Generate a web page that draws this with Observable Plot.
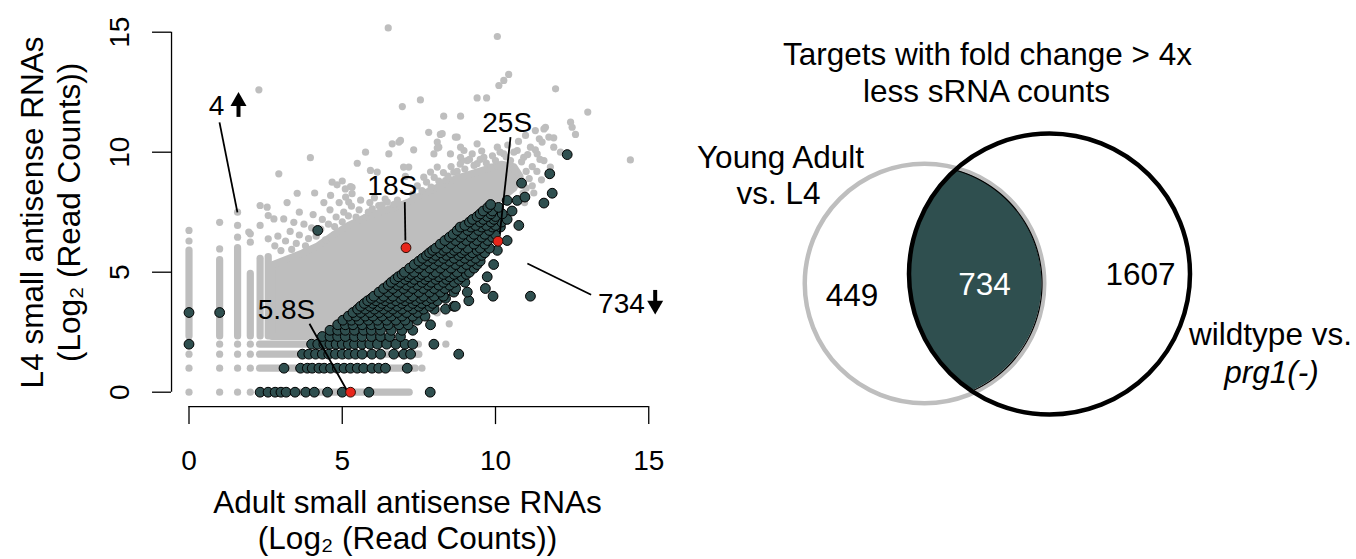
<!DOCTYPE html>
<html><head><meta charset="utf-8">
<script src="https://cdn.jsdelivr.net/npm/d3@7"></script>
<script src="https://cdn.jsdelivr.net/npm/@observablehq/plot@0.6"></script>
<style>
body{margin:0;background:#fff}
#wrap{display:flex;width:1356px;height:559px;overflow:hidden}
svg{display:block}
</style>
</head><body><div id="wrap"></div>
<script>
// ---------------- data (log2 read counts) ----------------
const xTicks = [0, 5, 10, 15];
const yTicks = [0, 5, 10, 15];
const xTitle = ["Adult small antisense RNAs", "(Log\u2082 (Read Counts))"];
const yTitle = ["L4 small antisense RNAs", "(Log\u2082 (Read Counts))"];

// dense core of the grey (all targets) cloud, outline [adult, L4]
const grayCore = [[2.7,2.32],[2.7,5.3],[3.2,5.55],[3.7,5.8],[4.2,6.1],[4.7,6.55],[5.2,6.95],[5.7,7.25],[6.2,7.5],[6.7,7.7],[7.2,7.95],[7.7,8.3],[8.2,8.6],[8.7,8.9],[9.2,9.1],[9.7,9.3],[10.2,9.5],[10.6,9.4],[10.8,9.0],[10.6,8.5],[10.2,8.1],[9.8,7.8],[9.0,7.0],[7.0,5.0],[5.0,3.0],[4.3,2.32]];
// stacked columns of grey points at low adult counts
const grayColumns = [{x:0,y1:2.32,y2:5.9},{x:1,y1:2.32,y2:5.5},{x:1.585,y1:2.32,y2:6.0},{x:2,y1:2.32,y2:4.93},{x:2.32,y1:2.32,y2:5.56},{x:2.585,y1:2.32,y2:5.63}];
// stacked rows of grey points at low L4 counts
const grayRows = [{y:0,x1:2.32,x2:7.2},{y:1,x1:2.32,x2:7.4},{y:1.585,x1:2.32,x2:7.46},{y:2,x1:2.32,x2:7.5}];
// individual grey points
const grayDots = [[0,0],[1,0],[1.585,0],[2,0],[0,1],[1,1],[1.585,1],[2,1],[0,1.585],[1,1.585],[1.585,1.585],[2,1.585],[0,2],[1,2],[1.585,2],[2,2],
[0,6.3],[0,6.74],[1,5.97],[1,7.08],[1.585,6.46],[1.585,6.95],[1.585,7.5],[2,6.25],[2,6.6],[2.32,6.95],[2.32,7.78],[2.585,6.39],[2.585,7.36],
[2.28,12.6],[6.5,15.18],[10.06,14.82],[10.43,13.24],[10.27,12.99],[10.11,12.78],[11.96,12.64],[7.55,12.18],[6.96,11.9],[9.4,12.26],[9.71,12.26],[8.31,11.5],[8.86,11.5],[13.01,11.67],[12.45,11.25],[12.5,11.04],[12.61,10.74],[11.63,11.04],[7.82,10.83],[8.2,10.74],[8.75,10.63],[6.9,10.49],[6.63,10.35],[7.33,10.1],[8.1,10.17],[8.97,10.07],[9.4,10.35],[11.3,10.9],[11.58,10.97],[11.43,10.56],[11.74,10.63],[11.9,10.6],[10.98,10.7],[5.76,10.0],[6.52,9.93],[3.96,9.77],[5.49,9.54],[14.4,9.68],[4.67,8.75],[4.83,8.64],[3.53,8.29],[4.62,8.2],[5.1,8.47],[5.27,8.57],[5.92,9.24],[6.14,9.17],[7.0,9.38],[2.93,9.1],[6.85,10.42],[8.26,10.77],[8.1,10.42],[8.15,10.21],[7.99,9.93],[8.53,9.93],[8.69,10.63],[8.86,10.21],[8.91,9.65],[5.32,8.54],
[5.11,8.13],[5.21,7.92],[5.32,8.27],[5.76,7.29],[5.98,7.64],[6.19,7.78],[6.47,7.92],[6.68,7.82],[7.17,9.38],[7.06,8.99],[7.66,8.96],[7.88,9.17],[8.1,9.38],[8.37,8.82],[8.64,9.17],[8.86,9.79],[9.08,9.65],[9.24,9.93],[9.4,9.52],[9.62,9.79],[9.84,9.38],[10.06,10.21],[10.27,9.93],[10.49,9.65],[10.71,10.07],[10.92,9.79],[11.14,10.21],[11.36,9.93],[11.58,9.65],[11.79,9.38],[11.52,10.42],[11.9,10.21],[12.12,10.0],
[10.5,8.6],[10.8,8.9],[11.0,9.2],[10.3,9.0],[10.6,9.3],[11.2,8.6],[10.9,8.3],[8.49,2.85],[8.38,2.0],[7.6,1.0],[7.5,1.585],[8.1,3.3],
[2.77,7.22],[3.09,7.22],[3.42,7.08],[1.95,6.67],[2.55,7.71],[2.8,6.1],[2.9,6.5],[3.0,5.9],[3.15,6.3],[3.3,6.7],[3.35,5.95],[3.5,6.2],[3.6,6.55],[3.75,7.0],[3.8,6.1],[3.9,6.4],[4.0,6.85],[4.05,7.4],[4.15,6.5],[4.3,6.8],[4.35,7.2],[4.45,6.35],[4.55,7.0],[4.6,7.6],[4.75,6.9],[4.8,7.3],[4.9,7.9],[5.0,7.1],[5.05,7.5],[5.2,7.35],[5.3,7.75],[5.45,7.3],[5.55,7.6],[5.6,8.0],[5.85,7.5],[5.9,7.9],[6.05,8.1],[6.3,7.8],[6.4,8.05],[6.8,8.0],[5.0,8.8],[4.4,7.9],[3.6,7.5],[3.2,7.9],[4.1,8.3],
[7.3,8.25],[7.45,8.6],[7.6,8.4],[7.75,8.75],[7.9,8.55],[8.0,8.95],[8.15,8.8],[8.3,9.15],[8.45,9.0],[8.55,9.4],[8.75,9.2],[8.85,9.5],[9.0,9.3],[9.15,9.7],[9.3,9.45],[9.5,9.7],[9.55,10.05],[9.7,9.55],[9.9,9.85],[10.0,9.65],[10.15,10.0],[10.35,9.8],[10.4,10.3],[10.6,10.0],[10.75,10.45],[10.85,9.6],[11.05,9.9],[11.2,9.4],[11.3,10.1],[11.45,9.7],[11.1,8.9],[11.35,9.2],[11.5,8.85],[11.25,8.3],[11.0,8.5],[10.95,7.9]];

// dark (Young Adult vs. L4 > 4x down) points, read row by row: L4 value and adult values
const darkRows = [
{y:0, xs:[2.32,2.58,2.81,3.0,3.17,3.46,3.81,4.09,4.52,5.0,5.87,7.87]},
{y:1, xs:[3.1,3.64,3.86,4.02,4.24,4.41,4.62,4.84,5.06,5.27,5.49,5.7,5.97,6.19,6.41,7.12]},
{y:1.585, xs:[3.7,3.91,4.13,4.35,4.56,4.78,5.0,5.21,5.43,5.65,5.97,6.25,6.68,7.01,7.23,8.8]},
{y:2, xs:[4.0,4.2,4.4,4.6,4.8,5.0,5.2,5.4,5.65,5.9,6.15,6.45,6.75,7.05,7.3,7.99]},
{y:2.32, xs:[4.35,4.6,4.85,5.1,5.4,5.65,5.95,6.25,6.55,6.9]},
{y:2.58, xs:[4.6,4.85,5.1,5.4,5.7,5.95,6.25,6.6,6.95,7.3]},
{y:2.81, xs:[4.85,5.1,5.35,5.65,5.95,6.2,6.5,6.85,7.15,7.88]},
{y:3.0, xs:[5.02,5.3,5.55,5.85,6.15,6.45,6.75,7.05,7.45]},
{y:3.17, xs:[5.2,5.45,5.75,6.0,6.3,6.6,6.95,7.3,7.7]},
{y:3.32, xs:[5.35,5.6,5.9,6.2,6.5,6.8,7.1,7.45]},
{y:3.46, xs:[5.5,5.75,6.05,6.35,6.65,6.95,7.3,7.65,8.0,8.37]},
{y:3.58, xs:[5.6,5.9,6.2,6.5,6.8,7.15,7.5,7.85,8.64,8.69]},
{y:3.7, xs:[5.72,6.0,6.3,6.6,6.95,7.3,7.6,7.95]},
{y:3.81, xs:[5.83,6.1,6.4,6.75,7.05,7.4,7.75,8.1,9.13]},
{y:3.91, xs:[5.95,6.25,6.55,6.9,7.2,7.55,7.9,8.37]},
{y:4.0, xs:[6.03,6.35,6.65,7.0,7.3,7.65,8.0,8.3,9.92,11.14]},
{y:4.17, xs:[6.2,6.5,6.8,7.15,7.5,7.85,8.2,8.64,9.08]},
{y:4.32, xs:[6.35,6.65,7.0,7.3,7.65,8.0,8.35,8.7,9.67]},
{y:4.46, xs:[6.5,6.8,7.1,7.45,7.8,8.15,8.5]},
{y:4.58, xs:[6.6,6.9,7.25,7.6,7.9,8.3,8.65,9.0]},
{y:4.7, xs:[6.72,7.05,7.35,7.7,8.05,8.4,8.8]},
{y:4.81, xs:[6.83,7.15,7.5,7.8,8.15,8.5,8.9,9.73]},
{y:4.91, xs:[6.95,7.25,7.6,7.95,8.3,8.65,9.05]},
{y:5.0, xs:[7.03,7.35,7.7,8.05,8.4,8.75,9.15]},
{y:5.17, xs:[7.2,7.5,7.85,8.2,8.55,8.9,9.3]},
{y:5.32, xs:[7.35,7.65,8.0,8.35,8.7,9.05,9.4,9.94]},
{y:5.46, xs:[7.5,7.8,8.15,8.5,8.85,9.2,9.5]},
{y:5.58, xs:[7.62,7.95,8.3,8.65,9.0,9.35]},
{y:5.7, xs:[7.75,8.05,8.4,8.8,9.15,9.55]},
{y:5.81, xs:[7.85,8.2,8.55,8.9,9.25,9.65]},
{y:5.91, xs:[7.95,8.3,8.65,9.0,9.4,10.06]},
{y:6.0, xs:[8.05,8.4,8.75,9.1,9.5,9.8]},
{y:6.17, xs:[8.2,8.55,8.9,9.3,9.65]},
{y:6.32, xs:[8.35,8.7,9.05,9.4,9.75,10.38]},
{y:6.46, xs:[8.5,8.85,9.2,9.55,9.9]},
{y:6.58, xs:[8.62,8.95,9.3,9.65,10.0]},
{y:6.74, xs:[4.2,8.75,9.1,9.45,9.8]},
{y:6.88, xs:[8.85,9.2,9.55,9.9,10.16]},
{y:6.95, xs:[9.0,9.35,9.7,10.0,10.76]},
{y:7.09, xs:[9.15,9.5,9.85,10.2]},
{y:7.2, xs:[9.25,9.6,9.95,10.38]},
{y:7.32, xs:[9.4,9.73,10.0]},
{y:7.43, xs:[9.5,9.85,10.22]},
{y:7.55, xs:[9.6,9.9,10.54]},
{y:7.7, xs:[9.75,10.1]},
{y:7.82, xs:[9.84]},
{y:7.99, xs:[10.38,10.71]},
{y:8.13, xs:[10.96]},
{y:8.29, xs:[11.85]},
{y:7.88, xs:[11.58]},
{y:8.71, xs:[10.85]},
{y:9.1, xs:[11.77]},
{y:9.9, xs:[12.34]}
];
const darkLeft = [[0,2],[0,3.32],[1,3.32]];

// ribosomal RNAs highlighted in red
const rRNA = [{name:"5.8S", x:5.27, y:0}, {name:"18S", x:7.08, y:6.02}, {name:"25S", x:10.08, y:6.29}];
// annotation labels
const notes = [{text:"4", x:0.9, y:11.53}, {text:"734", x:14.11, y:3.32}, {text:"5.8S", x:3.18, y:3.03}, {text:"18S", x:6.63, y:8.2}, {text:"25S", x:10.38, y:10.83}];
const leaders = [{x1:0.995,y1:11.24,x2:1.58,y2:7.49},{x1:11.04,y1:5.36,x2:13.12,y2:4.06},{x1:3.93,y1:2.85,x2:5.14,y2:0.1},{x1:7.04,y1:7.92,x2:7.06,y2:6.32},{x1:10.49,y1:10.63,x2:10.14,y2:6.6}];
const arrows = [{x:1.615, y:12.12, shaftFrom:11.45, shaftTo:11.99, rotate:0}, {x:15.21, y:3.62, shaftFrom:4.24, shaftTo:3.78, rotate:180}];

// Venn diagram
const vennTitle = ["Targets with fold change > 4x", "less sRNA counts"];
const vennSetA = ["Young Adult", "vs. L4"];
const vennSetB = ["wildtype vs.", "prg1(-)"];
const vennCounts = [449, 734, 1607]; // A only, both, B only

// ---------------- styles / layout ----------------
const FONT = "'Liberation Sans', Arial, Helvetica, sans-serif";
const GREY = "#bebebe", DARK = "#2f4f4f", RED = "#e8261b";

const darkPts = darkRows.flatMap(r => r.xs.map(x => [x, r.y])).concat(darkLeft);
const X = d => d[0], Y = d => d[1];

const scatter = Plot.plot({
  width: 680, height: 559,
  marginLeft: 188.5, marginRight: 31.75, marginTop: 31.7, marginBottom: 167.3,
  x: {domain: [0, 15], axis: null},
  y: {domain: [0, 15], axis: null},
  style: {fontFamily: FONT, background: "white", overflow: "visible", color: "black"},
  marks: [
    Plot.line(grayCore, {x: X, y: Y, curve: "linear-closed", fill: GREY, stroke: GREY, strokeWidth: 7, strokeLinejoin: "round"}),
    Plot.ruleX(grayColumns, {x: "x", y1: "y1", y2: "y2", stroke: GREY, strokeWidth: 7.2, strokeLinecap: "round"}),
    Plot.ruleY(grayRows, {y: "y", x1: "x1", x2: "x2", stroke: GREY, strokeWidth: 7.2, strokeLinecap: "round"}),
    Plot.dot(grayDots, {x: X, y: Y, r: 3.6, fill: GREY}),
    Plot.dot(darkPts, {x: X, y: Y, r: 4.9, fill: DARK, stroke: "black", strokeWidth: 1}),
    Plot.link(leaders, {x1: "x1", y1: "y1", x2: "x2", y2: "y2", stroke: "black", strokeWidth: 1.8}),
    Plot.dot(rRNA, {x: "x", y: "y", r: 4.9, fill: RED, stroke: "#301008", strokeWidth: 1}),
    // arrows next to the counts
    Plot.ruleX(arrows, {x: "x", y1: "shaftFrom", y2: "shaftTo", stroke: "black", strokeWidth: 4}),
    Plot.dot(arrows, {x: "x", y: "y", symbol: "triangle", r: 5.94, rotate: "rotate", fill: "black", stroke: "none"}),
    Plot.text(notes, {x: "x", y: "y", text: "text", fontSize: 28, lineAnchor: "bottom", fill: "black"}),
    // axes (R style, detached)
    Plot.ruleX([-0.57], {y1: 0, y2: 15, stroke: "black", strokeWidth: 1.3}),
    Plot.ruleY(yTicks, {x1: -1.19, x2: -0.57, stroke: "black", strokeWidth: 1.3}),
    Plot.ruleY([-0.6], {x1: 0, x2: 15, stroke: "black", strokeWidth: 1.3}),
    Plot.ruleX(xTicks, {y1: -1.35, y2: -0.6, stroke: "black", strokeWidth: 1.3}),
    Plot.text(xTicks, {x: d => d, y: -3.26, text: d => String(d), fontSize: 28, lineAnchor: "bottom", fill: "black"}),
    Plot.text(yTicks, {x: -1.97, y: d => d, text: d => String(d), fontSize: 28, lineAnchor: "bottom", rotate: -90, fill: "black"}),
    Plot.text(xTitle, {x: 7.13, y: (d, i) => [-5.05, -6.55][i], text: d => d, fontSize: 31.5, lineAnchor: "bottom", fill: "black"}),
    Plot.text(yTitle, {x: (d, i) => [-4.75, -3.57][i], y: 7.49, text: d => d, fontSize: 31.5, lineAnchor: "bottom", rotate: -90, fill: "black"})
  ]
});

// Venn layout (pixels inside the right panel)
const G = {cx: 244, cy: 283, r: 119.75};
const B = {cx: 369, cy: 273.5, r: 140.5};
const lens = [];
const rIn = G.r - 2.25;
for (let y = B.cy - B.r; y <= B.cy + B.r; y += 0.5) {
  const dg = rIn * rIn - (y - G.cy) ** 2;
  const db = B.r * B.r - (y - B.cy) ** 2;
  if (dg < 0 || db < 0) continue;
  const x1 = B.cx - Math.sqrt(db), x2 = G.cx + Math.sqrt(dg);
  if (x1 <= x2) lens.push({y, x1, x2});
}
const vennText = [
  {t: vennTitle[0], x: 307, y: 64, fill: "black", style: "normal"},
  {t: vennTitle[1], x: 306, y: 101, fill: "black", style: "normal"},
  {t: vennSetA[0], x: 100, y: 167, fill: "black", style: "normal"},
  {t: vennSetA[1], x: 98, y: 203, fill: "black", style: "normal"},
  {t: vennSetB[0], x: 590, y: 344, fill: "black", style: "normal"},
  {t: vennSetB[1], x: 591, y: 382, fill: "black", style: "italic"},
  {t: String(vennCounts[0]), x: 171.5, y: 305, fill: "black", style: "normal"},
  {t: String(vennCounts[1]), x: 304, y: 294, fill: "white", style: "normal"},
  {t: String(vennCounts[2]), x: 460, y: 284, fill: "black", style: "normal"}
];

const venn = Plot.plot({
  width: 676, height: 559, margin: 0,
  x: {domain: [0, 676], range: [0, 676], axis: null},
  y: {domain: [0, 559], range: [0, 559], axis: null},
  style: {fontFamily: FONT, background: "white", overflow: "visible"},
  marks: [
    Plot.dot([G], {x: "cx", y: "cy", r: G.r, fill: "white", stroke: GREY, strokeWidth: 4.5}),
    Plot.areaX(lens, {y: "y", x1: "x1", x2: "x2", fill: DARK}),
    Plot.line(lens, {x: "x2", y: "y", stroke: "black", strokeWidth: 1.2}),
    Plot.dot([B], {x: "cx", y: "cy", r: B.r, fill: "none", stroke: "black", strokeWidth: 4.5}),
    Plot.text(vennText.filter(d => d.style === "normal"), {x: "x", y: "y", text: "t", fill: "fill", fontSize: 31.5, lineAnchor: "bottom"}),
    Plot.text(vennText.filter(d => d.style === "italic"), {x: "x", y: "y", text: "t", fill: "fill", fontSize: 31.5, lineAnchor: "bottom", fontStyle: "italic"})
  ]
});

const wrap = document.getElementById("wrap");
wrap.appendChild(scatter);
wrap.appendChild(venn);
</script>
</body></html>
